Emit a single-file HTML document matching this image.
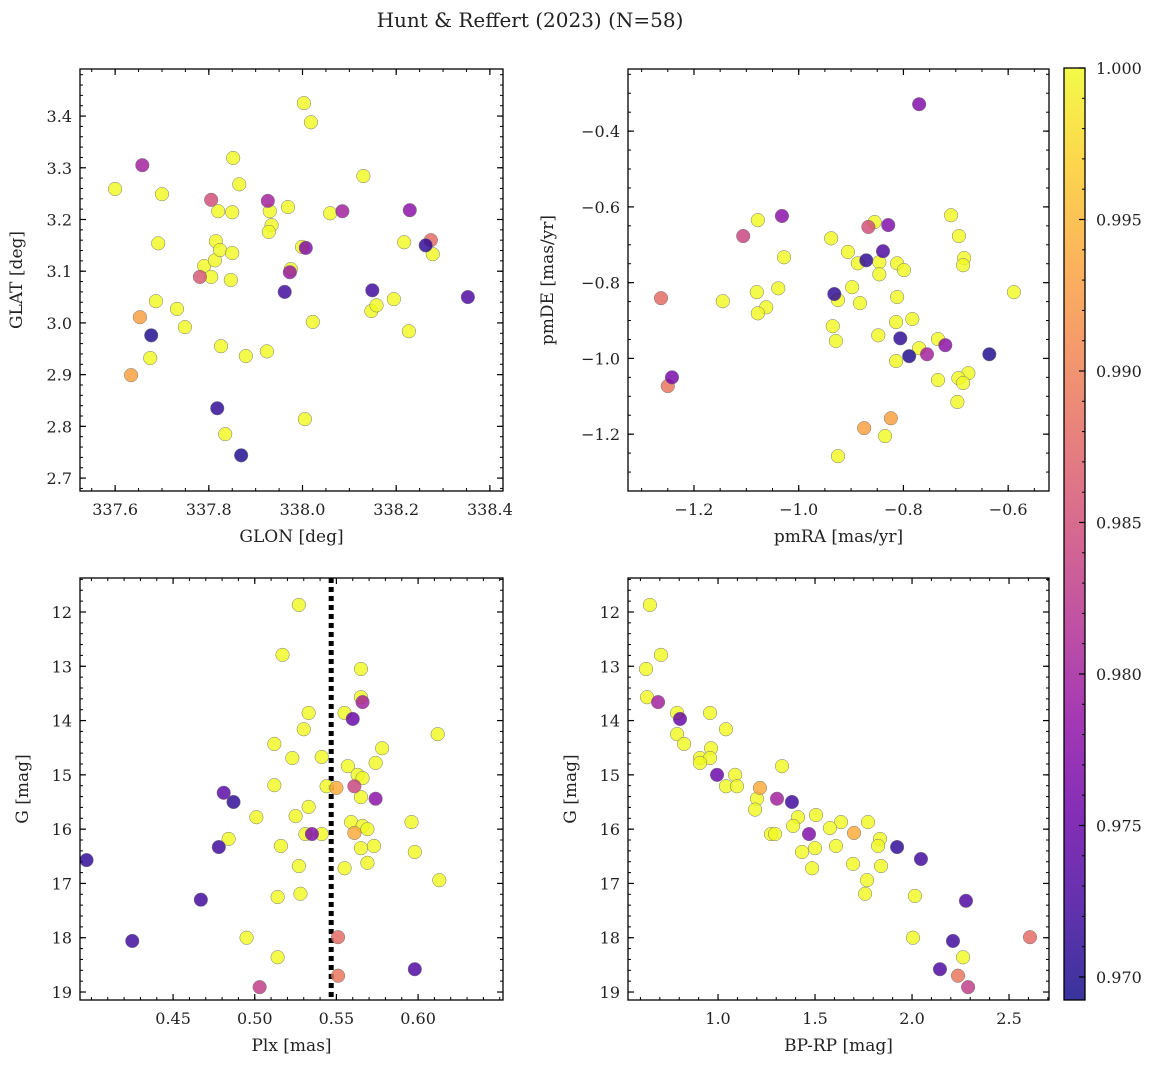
<!DOCTYPE html>
<html><head><meta charset="utf-8"><style>
html,body{margin:0;padding:0;background:#fff;}
svg text{font-family:"DejaVu Serif","Liberation Serif",serif;fill:#222;}
</style></head><body>
<svg id="fig" width="1161" height="1068" xmlns="http://www.w3.org/2000/svg">
<text x="530" y="27" font-size="20" text-anchor="middle">Hunt &amp; Reffert (2023) (N=58)</text>
</svg>
<script>
// Panel 1: GLON / GLAT
const glon=[337.600,337.658,337.700,337.692,337.687,337.653,337.677,337.675,337.634,337.732,337.749,337.805,337.820,337.852,337.865,337.850,337.790,337.781,337.805,337.815,337.813,337.824,337.850,337.847,337.826,337.818,337.835,337.869,337.879,337.926,337.930,337.934,337.928,337.924,337.969,337.962,337.973,337.975,337.999,338.007,338.003,338.018,338.022,338.005,338.059,338.085,338.130,338.149,338.147,338.158,338.195,338.217,338.229,338.227,338.263,338.274,338.278,338.353];
const glat=[3.259,3.305,3.249,3.154,3.042,3.011,2.976,2.932,2.899,3.027,2.992,3.238,3.216,3.319,3.268,3.214,3.110,3.089,3.089,3.158,3.121,3.141,3.135,3.083,2.955,2.835,2.785,2.744,2.936,3.236,3.216,3.189,3.176,2.945,3.224,3.060,3.098,3.104,3.147,3.145,3.425,3.388,3.002,2.814,3.212,3.216,3.284,3.063,3.023,3.034,3.046,3.156,3.218,2.984,3.150,3.160,3.133,3.050];
const prob1=[1,0.980,1,1,1,0.993,0.970,1,0.993,1,1,0.985,1,1,1,1,1,0.986,1,1,1,1,1,1,1,0.971,1,0.970,1,0.980,1,1,1,1,1,0.972,0.979,1,1,0.977,1,1,1,1,1,0.980,1,0.972,1,1,1,1,0.978,1,0.971,0.988,1,0.973];
// Panel 2: pmRA / pmDE
const pmra=[-0.770,-1.032,-1.106,-1.078,-1.028,-1.145,-1.080,-1.039,-1.062,-1.078,-1.263,-1.242,-1.250,-0.938,-0.932,-0.925,-0.935,-0.929,-0.925,-0.906,-0.898,-0.883,-0.887,-0.871,-0.867,-0.855,-0.829,-0.839,-0.846,-0.846,-0.848,-0.875,-0.835,-0.824,-0.812,-0.799,-0.812,-0.814,-0.814,-0.806,-0.789,-0.783,-0.770,-0.755,-0.720,-0.734,-0.734,-0.709,-0.694,-0.684,-0.686,-0.676,-0.695,-0.686,-0.697,-0.636,-0.589];
const pmde=[-0.329,-0.624,-0.677,-0.635,-0.733,-0.849,-0.825,-0.815,-0.865,-0.881,-0.841,-1.050,-1.073,-0.683,-0.830,-0.846,-0.915,-0.954,-1.258,-0.719,-0.812,-0.854,-0.749,-0.741,-0.653,-0.640,-0.648,-0.717,-0.746,-0.778,-0.939,-1.184,-1.205,-1.158,-0.749,-0.767,-0.838,-0.904,-1.007,-0.947,-0.994,-0.896,-0.973,-0.989,-0.965,-0.949,-1.057,-0.622,-0.677,-0.735,-0.754,-1.039,-1.052,-1.065,-1.115,-0.989,-0.825];
const prob2=[0.977,0.978,0.984,1,1,1,1,1,1,1,0.988,0.976,0.989,1,0.971,1,1,1,1,1,1,1,1,0.971,0.985,1,0.977,0.973,1,1,1,0.993,1,0.993,1,1,1,1,1,0.971,0.970,1,1,0.980,0.978,1,1,1,1,1,1,1,1,1,1,0.970,1];
// Panel 3: Plx / G
const plx=[0.527,0.517,0.565,0.565,0.566,0.533,0.555,0.560,0.530,0.512,0.612,0.578,0.523,0.541,0.574,0.557,0.563,0.566,0.561,0.544,0.550,0.512,0.565,0.574,0.481,0.487,0.525,0.501,0.533,0.559,0.566,0.569,0.596,0.484,0.478,0.531,0.535,0.541,0.561,0.516,0.565,0.573,0.598,0.527,0.555,0.569,0.397,0.613,0.514,0.528,0.467,0.425,0.495,0.551,0.514,0.598,0.551,0.503];
const gmag3=[11.87,12.79,13.05,13.57,13.66,13.86,13.86,13.97,14.16,14.43,14.25,14.51,14.69,14.67,14.78,14.84,15.00,15.06,15.21,15.21,15.24,15.19,15.41,15.44,15.33,15.50,15.76,15.78,15.59,15.87,15.94,16.00,15.87,16.18,16.33,16.09,16.09,16.09,16.07,16.31,16.35,16.31,16.42,16.68,16.72,16.62,16.57,16.94,17.25,17.19,17.30,18.06,18.00,17.99,18.36,18.58,18.70,18.91];
const prob3=[1,1,1,1,0.980,1,1,0.975,1,1,1,1,1,1,1,1,1,1,0.984,1,0.994,1,1,0.978,0.974,0.971,1,1,1,1,1,1,1,1,0.972,1,0.977,1,0.994,1,1,1,1,1,1,1,0.971,1,1,1,0.972,0.972,1,0.988,1,0.973,0.989,0.983];
const plxCut=[0.5468];
// Panel 4: BP-RP / G
const bprp=[0.649,0.706,0.629,0.634,0.691,0.959,0.804,0.789,1.041,0.789,0.825,0.964,0.907,0.959,0.907,1.330,0.995,1.088,1.041,1.098,1.216,1.201,1.191,1.304,1.381,1.505,1.412,1.634,1.773,1.577,1.387,1.469,1.701,1.273,1.294,1.835,1.608,1.825,1.500,1.923,1.433,1.696,1.485,1.840,2.046,1.768,2.015,1.758,2.278,2.005,2.608,2.211,2.263,2.144,2.237,2.289];
const gmag4=[11.87,12.79,13.05,13.57,13.66,13.86,13.97,13.86,14.16,14.25,14.43,14.51,14.69,14.69,14.78,14.84,15.00,15.00,15.21,15.21,15.24,15.44,15.64,15.44,15.50,15.74,15.78,15.87,15.87,15.98,15.94,16.09,16.07,16.09,16.09,16.18,16.31,16.31,16.35,16.33,16.42,16.64,16.72,16.68,16.55,16.94,17.23,17.19,17.32,18.00,17.99,18.06,18.36,18.58,18.70,18.91];
const prob4=[1,1,1,1,0.980,1,0.975,1,1,1,1,1,1,1,1,1,0.975,1,1,1,0.994,1,1,0.980,0.972,1,1,1,1,1,1,0.977,0.994,1,1,1,1,1,1,0.971,1,1,1,1,0.972,1,1,1,0.973,1,0.988,0.972,1,0.973,0.989,0.983];
const cbTicks=[0.970,0.975,0.980,0.985,0.990,0.995,1.000];

const NS="http://www.w3.org/2000/svg";
const svg=document.getElementById('fig');
function mk(tag,attrs,parent){const e=document.createElementNS(NS,tag);for(const k in attrs)e.setAttribute(k,attrs[k]);(parent||svg).appendChild(e);return e;}
const VMIN=0.96924,VMAX=1.0;
const plasma=["#0d0887","#41049d","#6a00a8","#8f0da4","#b12a90","#cc4778","#e16462","#f2844b","#fca636","#fcce25","#f0f921"];
function hex(h){return [1,3,5].map(i=>parseInt(h.substr(i,2),16));}
function cmap(v){let t=(v-VMIN)/(VMAX-VMIN);t=Math.max(0,Math.min(1,t));const f=t*10,i=Math.min(9,Math.floor(f)),r=f-i;const a=hex(plasma[i]),b=hex(plasma[i+1]);return 'rgb('+a.map((c,k)=>Math.round(c+(b[k]-c)*r)).join(',')+')';}

function panel(o){
  const g=mk('g',{});
  
  
  const X=v=>o.x0+(v-o.xmin)/(o.xmax-o.xmin)*(o.x1-o.x0);
  const Y=o.inv?(v=>o.y0+(v-o.ymin)/(o.ymax-o.ymin)*(o.y1-o.y0)):(v=>o.y1-(v-o.ymin)/(o.ymax-o.ymin)*(o.y1-o.y0));
  const eps=1e-9;
  for(let v=Math.ceil(o.xmin/o.xmn-eps)*o.xmn;v<=o.xmax+eps;v+=o.xmn){const px=X(v);mk('line',{x1:px,x2:px,y1:o.y1,y2:o.y1-3,stroke:'#000','stroke-width':1},g);mk('line',{x1:px,x2:px,y1:o.y0,y2:o.y0+3,stroke:'#000','stroke-width':1},g);}
  for(let v=Math.ceil(o.ymin/o.ymn-eps)*o.ymn;v<=o.ymax+eps;v+=o.ymn){const py=Y(v);mk('line',{x1:o.x0,x2:o.x0+3,y1:py,y2:py,stroke:'#000','stroke-width':1},g);mk('line',{x1:o.x1,x2:o.x1-3,y1:py,y2:py,stroke:'#000','stroke-width':1},g);}
  o.xt.forEach(v=>{const px=X(v);mk('line',{x1:px,x2:px,y1:o.y1,y2:o.y1-6,stroke:'#000','stroke-width':1.2},g);mk('line',{x1:px,x2:px,y1:o.y0,y2:o.y0+6,stroke:'#000','stroke-width':1.2},g);
    const t=mk('text',{x:px,y:o.y1+24,'font-size':16,'text-anchor':'middle'},g);t.textContent=v.toFixed(o.xd).replace('-','−');
    
    });
  o.yt.forEach(v=>{const py=Y(v);mk('line',{x1:o.x0,x2:o.x0+6,y1:py,y2:py,stroke:'#000','stroke-width':1.2},g);mk('line',{x1:o.x1,x2:o.x1-6,y1:py,y2:py,stroke:'#000','stroke-width':1.2},g);
    const t=mk('text',{x:o.x0-8,y:py+6,'font-size':16,'text-anchor':'end'},g);t.textContent=v.toFixed(o.yd).replace('-','−');
    
    });
  if(o.vline){const px=X(o.vline[0]);const l=mk('line',{x1:px,x2:px,y1:o.y0,y2:o.y1,stroke:'#000','stroke-width':5,'stroke-dasharray':'5,4'},g);
    
    }
  const idx=o.xs.map((_,i)=>i).sort((a,b)=>o.cs[b]-o.cs[a]);
  idx.forEach(i=>{const c=mk('circle',{cx:X(o.xs[i]),cy:Y(o.ys[i]),r:6.8,fill:cmap(o.cs[i]),'fill-opacity':0.82,stroke:'#777','stroke-width':0.5},g);
    
    });
  const fr=mk('rect',{x:o.x0,y:o.y0,width:o.x1-o.x0,height:o.y1-o.y0,fill:'none',stroke:'#000','stroke-width':1.3},g);
  
  
  const xl=mk('text',{x:(o.x0+o.x1)/2,y:o.y1+51,'font-size':17,'text-anchor':'middle'},g);xl.textContent=o.xl;
  
  
  const yc=(o.y0+o.y1)/2,yx=o.ylx;
  const yl=mk('text',{x:yx,y:yc,'font-size':17,'text-anchor':'middle',transform:'rotate(-90 '+yx+' '+yc+')'},g);yl.textContent=o.yl;
  
  
}
panel({name:'glon-glat-panel',x0:80,x1:503,y0:69,y1:491,xmin:337.525,xmax:338.428,ymin:2.675,ymax:3.491,xt:[337.6,337.8,338.0,338.2,338.4],xd:1,yt:[2.7,2.8,2.9,3.0,3.1,3.2,3.3,3.4],yd:1,xmn:0.05,ymn:0.02,xs:glon,ys:glat,cs:prob1,xl:'GLON [deg]',yl:'GLAT [deg]',ylx:22});
panel({name:'proper-motion-panel',x0:628,x1:1049,y0:69,y1:491,xmin:-1.326,xmax:-0.522,ymin:-1.350,ymax:-0.236,xt:[-1.2,-1.0,-0.8,-0.6],xd:1,yt:[-1.2,-1.0,-0.8,-0.6,-0.4],yd:1,xmn:0.05,ymn:0.05,xs:pmra,ys:pmde,cs:prob2,xl:'pmRA [mas/yr]',yl:'pmDE [mas/yr]',ylx:553});
panel({name:'parallax-mag-panel',x0:80,x1:503,y0:578,y1:1000,xmin:0.393,xmax:0.652,ymin:11.374,ymax:19.147,inv:true,xt:[0.45,0.50,0.55,0.60],xd:2,yt:[12,13,14,15,16,17,18,19],yd:0,xmn:0.01,ymn:0.2,xs:plx,ys:gmag3,cs:prob3,xl:'Plx [mas]',yl:'G [mag]',ylx:28,vline:plxCut});
panel({name:'cmd-panel',x0:628,x1:1049,y0:578,y1:1000,xmin:0.536,xmax:2.706,ymin:11.374,ymax:19.147,inv:true,xt:[1.0,1.5,2.0,2.5],xd:1,yt:[12,13,14,15,16,17,18,19],yd:0,xmn:0.1,ymn:0.2,xs:bprp,ys:gmag4,cs:prob4,xl:'BP-RP [mag]',yl:'G [mag]',ylx:576});

const cb=mk('g',{});


const defs=mk('defs',{});const lg=mk('linearGradient',{id:'pl',x1:0,y1:1,x2:0,y2:0},defs);
plasma.forEach((c,i)=>mk('stop',{offset:(i*10)+'%','stop-color':c,'stop-opacity':0.82},lg));
const CB={x:1064,w:21,y0:68,y1:1000};
mk('rect',{x:CB.x,y:CB.y0,width:CB.w,height:CB.y1-CB.y0,fill:'url(#pl)'},cb);
const CY=v=>CB.y1-(v-VMIN)/(VMAX-VMIN)*(CB.y1-CB.y0);
for(let v=0.970;v<=1.0005;v+=0.001){const py=CY(v);mk('line',{x1:CB.x+CB.w,x2:CB.x+CB.w-3,y1:py,y2:py,stroke:'#000','stroke-width':1},cb);}
cbTicks.forEach(v=>{const py=CY(v);mk('line',{x1:CB.x+CB.w,x2:CB.x+CB.w-6,y1:py,y2:py,stroke:'#000','stroke-width':1.2},cb);
  const t=mk('text',{x:CB.x+CB.w+11,y:py+6,'font-size':16},cb);t.textContent=v.toFixed(3);
  
  });
mk('rect',{x:CB.x,y:CB.y0,width:CB.w,height:CB.y1-CB.y0,fill:'none',stroke:'#000','stroke-width':1.3},cb);
</script>
</body></html>
